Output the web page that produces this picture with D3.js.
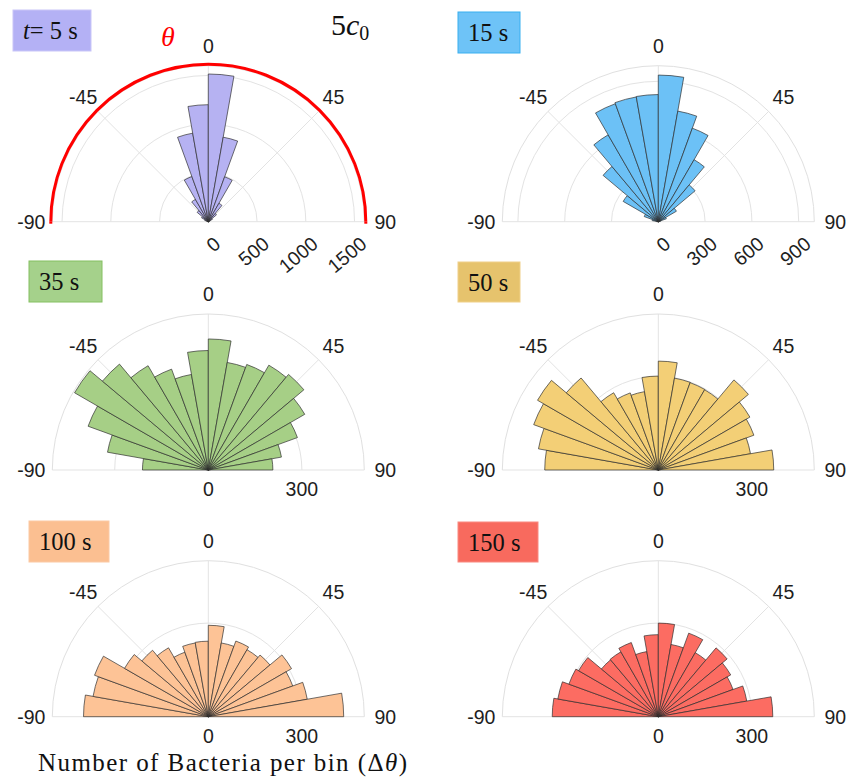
<!DOCTYPE html>
<html>
<head>
<meta charset="utf-8">
<script src="https://cdn.jsdelivr.net/npm/d3@7"></script>
<style>
  body { margin: 0; background: #fff; }
  svg { display: block; }
</style>
</head>
<body>
<svg id="chart" width="848" height="779"></svg>
<script>
// ---------------- DATA ----------------
const binStarts = [-90, -80, -70, -60, -50, -40, -30, -20, -10, 0, 10, 20, 30, 40, 50, 60, 70, 80];
const binWidth = 10;
const thetaTicks = [-90, -45, 0, 45, 90];
const timeLabels = ["5 s", "15 s", "35 s", "50 s", "100 s", "150 s"];

const counts5s   = [5, 15, 40, 80, 150, 265, 493, 922, 1200, 1515, 880, 490, 218, 110, 50, 20, 8, 3];
const counts15s  = [10, 40, 96, 260, 462, 643, 805, 812, 815, 940, 720, 638, 459, 308, 134, 55, 15, 5];
const counts35s  = [211, 328, 410, 495, 443, 386, 344, 311, 383, 420, 350, 360, 388, 400, 357, 304, 238, 207];
const counts50s  = [364, 390, 425, 447, 385, 286, 263, 255, 301, 349, 299, 298, 297, 377, 339, 326, 300, 370];
const counts100s = [400, 375, 388, 310, 278, 255, 220, 240, 242, 293, 240, 258, 248, 258, 308, 288, 322, 434];
const counts150s = [340, 327, 305, 295, 238, 240, 253, 212, 263, 300, 235, 285, 237, 288, 268, 255, 288, 367];

const rLimits = [1600, 1000, 500, 500, 500, 500];
const rTicks5s  = [0, 500, 1000, 1500];
const rTicks15s = [0, 300, 600, 900];
const rTicksLate = [0, 300];

const seriesCounts = [counts5s, counts15s, counts35s, counts50s, counts100s, counts150s];
const seriesRTicks = [rTicks5s, rTicks15s, rTicksLate, rTicksLate, rTicksLate, rTicksLate];

// ---------------- STYLE / LAYOUT ----------------
const barFill  = ["#b6b2f2", "#6cc1f6", "#a6cf86", "#f3cf76", "#fdc396", "#fc6c62"];
const boxFill  = ["#b4b1f5", "#6ec3f7", "#a5d18b", "#e6c36d", "#fbbf91", "#f86a5e"];
const boxEdge  = ["#c9c6f8", "#39aff0", "#84c060", "#f0d089", "#fbc9a4", "#f98a80"];
const centers  = [[208.3, 221.7], [658.3, 221.7], [208.3, 470], [658.3, 470], [208.3, 716.7], [658.3, 716.7]];
const boxes    = [[13, 10, 78, 41], [458, 12, 62, 41], [29, 261, 73, 41], [458, 262, 62, 40], [29, 521, 80, 41], [458, 522, 80, 40]];
const R = 156;
const sansFont = "Arial, 'Liberation Sans', Helvetica, sans-serif";
const serifFont = "'Times New Roman', 'Liberation Serif', serif";

const svg = d3.select("#chart");
svg.append("rect").attr("width", 848).attr("height", 779).attr("fill", "#fff");

const angle = d3.scaleLinear().domain([-90, 90]).range([-Math.PI / 2, Math.PI / 2]);
const arcGen = d3.arc();

function arcPath(radius) {
  const p = d3.path();
  const start = d3.pointRadial(angle(-90), radius);
  p.moveTo(start[0], start[1]);
  p.arc(0, 0, radius, Math.PI, 2 * Math.PI, false);
  return p.toString();
}

seriesCounts.forEach((counts, i) => {
  const [cx, cy] = centers[i];
  const rScale = d3.scaleLinear().domain([0, rLimits[i]]).range([0, R]);
  const g = svg.append("g").attr("transform", `translate(${cx},${cy})`);

  // grid circles
  g.selectAll("path.grid")
    .data(seriesRTicks[i].filter(t => t > 0))
    .join("path")
    .attr("class", "grid")
    .attr("d", t => arcPath(rScale(t)))
    .attr("fill", "none")
    .attr("stroke", "#e3e3e3")
    .attr("stroke-width", 1);

  // spokes
  g.selectAll("line.spoke")
    .data(thetaTicks)
    .join("line")
    .attr("class", "spoke")
    .attr("x1", 0).attr("y1", 0)
    .attr("x2", t => d3.pointRadial(angle(t), R)[0])
    .attr("y2", t => d3.pointRadial(angle(t), R)[1])
    .attr("stroke", "#e3e3e3")
    .attr("stroke-width", 1);

  // outer boundary
  g.append("path")
    .attr("d", arcPath(R))
    .attr("fill", "none")
    .attr("stroke", "#e0e0e0")
    .attr("stroke-width", 1);

  // bars
  g.selectAll("path.bar")
    .data(counts.map((v, k) => ({ v, s: binStarts[k] })))
    .join("path")
    .attr("class", "bar")
    .attr("d", d => arcGen({
      innerRadius: 0,
      outerRadius: rScale(d.v),
      startAngle: angle(d.s),
      endAngle: angle(d.s + binWidth)
    }))
    .attr("fill", barFill[i])
    .attr("stroke", "#2b2b2b")
    .attr("stroke-opacity", 0.85)
    .attr("stroke-width", 0.8)
    .attr("stroke-linejoin", "round");

  // red theta boundary for the first panel
  if (i === 0) {
    g.append("path")
      .attr("d", arcPath(R + 1.5))
      .attr("fill", "none")
      .attr("stroke", "#ff0000")
      .attr("stroke-width", 3);
    g.selectAll("line.redend")
      .data([-1, 1])
      .join("line")
      .attr("x1", s => s * (R + 1.5)).attr("x2", s => s * (R + 1.5))
      .attr("y1", 0).attr("y2", 2)
      .attr("stroke", "#ff0000").attr("stroke-width", 3);
  }

  // theta tick labels
  g.selectAll("text.tlab")
    .data(thetaTicks)
    .join("text")
    .attr("class", "tlab")
    .attr("x", t => d3.pointRadial(angle(t), R + 21)[0])
    .attr("y", t => d3.pointRadial(angle(t), R + 20)[1])
    .attr("text-anchor", "middle")
    .attr("dominant-baseline", "central")
    .attr("font-family", sansFont)
    .attr("font-size", 19.5)
    .attr("fill", "#1e1e1e")
    .text(t => t);

  // radial tick labels
  const rt = seriesRTicks[i];
  if (i < 2) {
    g.selectAll("text.rlab")
      .data(rt)
      .join("text")
      .attr("class", "rlab")
      .attr("x", t => rScale(t) + 9)
      .attr("y", 19)
      .attr("transform", t => `rotate(-40, ${rScale(t) + 9}, 19)`)
      .attr("text-anchor", "end")
      .attr("dominant-baseline", "central")
      .attr("font-family", sansFont)
      .attr("font-size", 19.5)
      .attr("fill", "#1e1e1e")
      .text(t => t);
  } else {
    g.selectAll("text.rlab")
      .data(rt)
      .join("text")
      .attr("class", "rlab")
      .attr("x", t => rScale(t))
      .attr("y", 19)
      .attr("text-anchor", "middle")
      .attr("dominant-baseline", "central")
      .attr("font-family", sansFont)
      .attr("font-size", 19.5)
      .attr("fill", "#1e1e1e")
      .text(t => t);
  }

  // time label box
  const [bx, by, bw, bh] = boxes[i];
  svg.append("rect")
    .attr("x", bx).attr("y", by).attr("width", bw).attr("height", bh)
    .attr("fill", boxFill[i])
    .attr("stroke", boxEdge[i])
    .attr("stroke-width", 1);
  const txt = svg.append("text")
    .attr("x", bx + 10)
    .attr("y", by + bh / 2 + 8.5)
    .attr("font-family", serifFont)
    .attr("font-size", 24.5)
    .attr("fill", "#111");
  if (i === 0) {
    txt.append("tspan").attr("font-style", "italic").text("t");
    txt.append("tspan").text("= " + timeLabels[i]);
  } else {
    txt.text(timeLabels[i]);
  }
});

// theta symbol and concentration label
svg.append("text")
  .attr("x", 168).attr("y", 46)
  .attr("text-anchor", "middle")
  .attr("font-family", serifFont)
  .attr("font-style", "italic")
  .attr("font-size", 28)
  .attr("fill", "#ff0000")
  .text("θ");

const conc = svg.append("text")
  .attr("x", 331).attr("y", 35)
  .attr("font-family", serifFont)
  .attr("font-size", 30)
  .attr("fill", "#111");
conc.append("tspan").text("5");
conc.append("tspan").attr("font-style", "italic").text("c");
conc.append("tspan").attr("font-size", 20).attr("dy", 5).text("0");

// bottom axis title
const title = svg.append("text")
  .attr("x", 38).attr("y", 771)
  .attr("font-family", serifFont)
  .attr("font-size", 25)
  .attr("textLength", 369)
  .attr("lengthAdjust", "spacing")
  .attr("fill", "#111");
title.append("tspan").text("Number of Bacteria per bin (Δ");
title.append("tspan").attr("font-style", "italic").text("θ");
title.append("tspan").text(")");
</script>
</body>
</html>
